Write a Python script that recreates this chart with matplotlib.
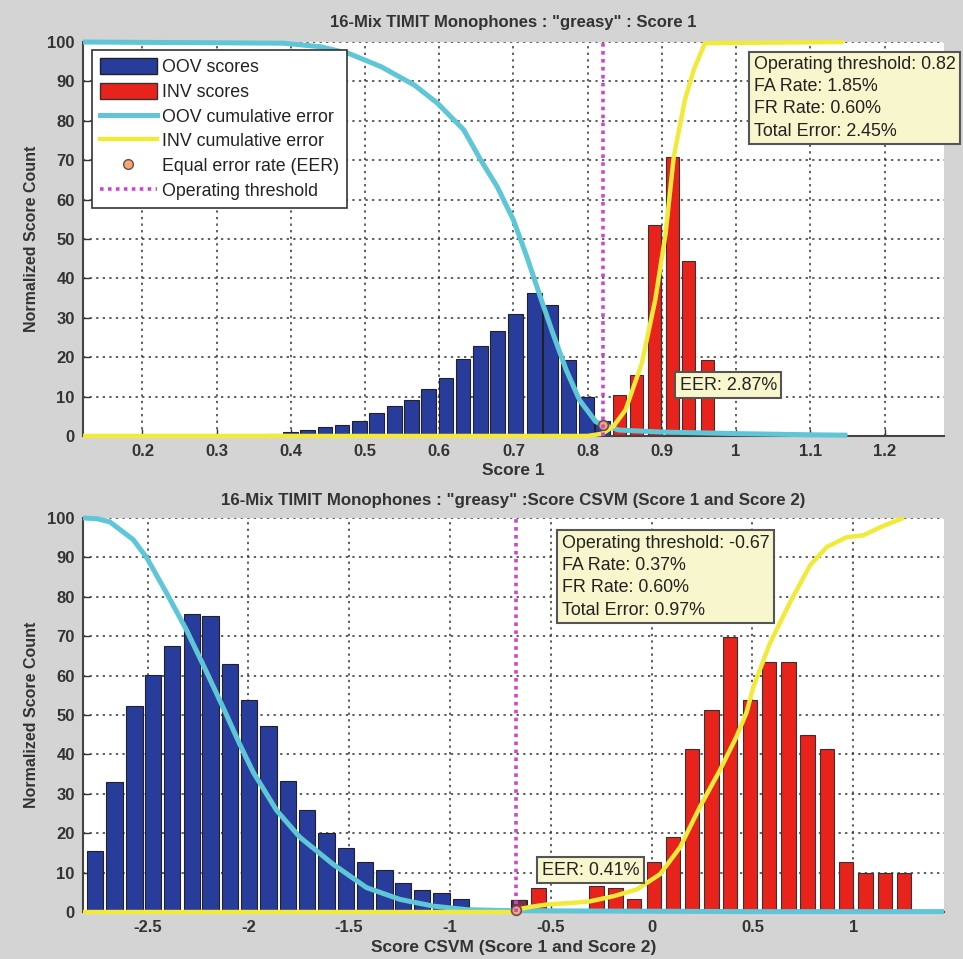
import numpy as np
import matplotlib
matplotlib.use("Agg")
import matplotlib.pyplot as plt
from matplotlib.patches import Patch
from matplotlib.lines import Line2D
from matplotlib.ticker import FuncFormatter, MultipleLocator

plt.rcParams['font.family'] = ['Liberation Sans', 'DejaVu Sans']

# ---- Score 1 ----
s1_oov_bins = [0.376, 0.400, 0.423, 0.446, 0.469, 0.492, 0.516, 0.540, 0.563, 0.586,
               0.609, 0.632, 0.656, 0.679, 0.703, 0.728, 0.750, 0.774, 0.798, 0.820]
s1_oov_counts = [0.5, 1.0, 1.5, 2.2, 2.8, 3.9, 5.8, 7.6, 9.2, 12.0,
                 14.6, 19.6, 22.8, 26.6, 30.9, 36.2, 33.2, 19.2, 9.9, 3.8]
s1_inv_bins = [0.843, 0.866, 0.890, 0.914, 0.936, 0.961]
s1_inv_counts = [10.4, 15.5, 53.6, 70.7, 44.5, 19.3]

s1_oov_err_x = [0.12, 0.39, 0.44, 0.478, 0.522, 0.567, 0.598, 0.633, 0.656, 0.678, 0.700,
                0.718, 0.736, 0.753, 0.771, 0.789, 0.811, 0.82, 0.842, 0.9, 1.0, 1.1, 1.15]
s1_oov_err_y = [100, 99.7, 98.8, 97.1, 93.7, 89.0, 84.4, 77.7, 70.0, 63.3, 54.8,
                45.5, 35.4, 26.1, 16.8, 9.1, 3.6, 2.9, 1.5, 1.0, 0.6, 0.3, 0.2]
s1_inv_err_x = [0.12, 0.80, 0.82, 0.835, 0.851, 0.873, 0.891, 0.905, 0.916, 0.931,
                0.943, 0.958, 1.145]
s1_inv_err_y = [0, 0, 0.6, 2.5, 6.6, 18.5, 34.5, 51.4, 70.9, 85.3, 93.0, 99.7, 100]

s1_threshold = 0.82
s1_eer = 2.87
s1_stats = ["Operating threshold: 0.82", "FA Rate: 1.85%", "FR Rate: 0.60%", "Total Error: 2.45%"]

# ---- Score CSVM ----
cs_oov_bins = [-2.760, -2.664, -2.565, -2.472, -2.378, -2.280, -2.188, -2.092, -1.996, -1.900,
               -1.804, -1.710, -1.612, -1.516, -1.421, -1.324, -1.232, -1.139, -1.042, -0.946,
               -0.658]
cs_oov_counts = [15.6, 33.1, 52.2, 60.1, 67.6, 75.7, 75.0, 63.0, 53.7, 47.2,
                 33.3, 26.0, 20.0, 16.2, 12.6, 10.7, 7.3, 5.7, 4.7, 3.2,
                 3.0]
cs_inv_bins = [-0.658, -0.562, -0.273, -0.180, -0.088, 0.011, 0.107, 0.201, 0.296, 0.390,
               0.488, 0.582, 0.678, 0.774, 0.870, 0.965, 1.060, 1.157, 1.251]
cs_inv_counts = [3.0, 6.2, 6.6, 6.2, 3.2, 12.6, 19.1, 41.4, 51.3, 69.7,
                 53.8, 63.4, 63.4, 44.8, 41.4, 12.6, 9.8, 9.8, 9.8]

cs_oov_err_x = [-2.82, -2.75, -2.687, -2.571, -2.505, -2.406, -2.307, -2.208, -2.108, -2.042,
                -1.976, -1.860, -1.745, -1.579, -1.414, -1.248, -1.083, -0.918, -0.75, -0.5,
                0.0, 0.5, 1.0, 1.45]
cs_oov_err_y = [100, 99.8, 99.0, 94.5, 90.0, 81.0, 71.6, 61.0, 50.0, 42.5,
                35.5, 25.8, 19.0, 12.1, 6.2, 3.2, 1.5, 0.6, 0.4, 0.3,
                0.2, 0.1, 0.1, 0.1]
cs_inv_err_x = [-2.82, -0.70, -0.67, -0.60, -0.521, -0.40, -0.306, -0.19, -0.074, 0.042,
                0.141, 0.24, 0.339, 0.422, 0.471, 0.504, 0.587, 0.686, 0.785, 0.868,
                0.967, 1.05, 1.15, 1.25]
cs_inv_err_y = [0, 0, 0.6, 1.3, 1.9, 2.3, 2.7, 4.0, 5.7, 9.6,
                16.4, 26.7, 36.0, 44.6, 50.6, 57.0, 68.2, 78.5, 87.9, 92.6,
                95.1, 95.6, 98.0, 100]

cs_threshold = -0.67
cs_eer = 0.41
cs_stats = ["Operating threshold: -0.67", "FA Rate: 0.37%", "FR Rate: 0.60%", "Total Error: 0.97%"]

BLUE = '#283c9c'
RED = '#e8231c'
MIX = '#862a4a'
CYAN = '#5ec6d6'
YELLOW = '#f2ea3a'
MAGENTA = '#cf45cf'
BOXFACE = '#f8f6cc'
BG = '#d4d4d4'
TXT = 12.9


def fmt(v, pos):
    return '%g' % round(v, 6)


def draw_panel(ax, oov_b, oov_c, inv_b, inv_c, step, oov_x, oov_y, inv_x, inv_y,
               thr, eer, stats, xlim, xstep, title, xlabel, box_xy, eer_xy,
               title_pad=9, title_size=12, legend=False):
    ax.set_facecolor('white')
    ax.bar(oov_b, oov_c, width=step * 0.85, color=BLUE, edgecolor='#222222', linewidth=0.8, zorder=2)
    ax.bar(inv_b, inv_c, width=step * 0.75, color=RED, edgecolor='#333333', linewidth=0.8, zorder=2)
    # bins shared by both classes
    for b, c in zip(inv_b, inv_c):
        if any(np.isclose(b, o) for o in oov_b):
            ax.bar([b], [c], width=step * 0.75, color=MIX, edgecolor='#333333', linewidth=0.8, zorder=2)
    ax.plot(oov_x, oov_y, color=CYAN, lw=3.6, solid_capstyle='butt', zorder=3, clip_on=False)
    ax.plot(inv_x, inv_y, color=YELLOW, lw=3.2, solid_capstyle='butt', zorder=3, clip_on=False)
    ax.plot([thr], [eer], 'o', ms=7, mfc='#f4a86a', mec='#6a4a5a', mew=1.2, zorder=4, clip_on=False)
    ax.plot([thr, thr], [0, 100], color=MAGENTA, lw=2.6, linestyle=(0, (1, 1.2)), zorder=5)

    ax.set_xlim(*xlim)
    ax.set_ylim(0, 100)
    ax.xaxis.set_major_locator(MultipleLocator(xstep))
    ax.yaxis.set_major_locator(MultipleLocator(10))
    ax.xaxis.set_major_formatter(FuncFormatter(fmt))
    ax.yaxis.set_major_formatter(FuncFormatter(fmt))
    ax.grid(True, color='#333333', linestyle=(0, (1.5, 2.8)), linewidth=1.1, zorder=1)
    ax.set_axisbelow(True)
    ax.tick_params(direction='in', length=5, width=1, labelsize=12, color='#333333', pad=6)
    for lab in ax.get_xticklabels() + ax.get_yticklabels():
        lab.set_fontweight('bold')
        lab.set_color('#333333')
    for side in ('top', 'right'):
        ax.spines[side].set_visible(False)
    for side in ('left', 'bottom'):
        ax.spines[side].set_color('#444444')
        ax.spines[side].set_linewidth(1.5)

    ax.set_title(title, fontsize=title_size, fontweight='bold', color='#333333', pad=title_pad)
    ax.set_xlabel(xlabel, fontsize=12.5, fontweight='bold', color='#333333', labelpad=3)
    ax.set_ylabel('Normalized Score Count', fontsize=11.5, fontweight='bold', color='#333333', labelpad=6)

    ax.text(box_xy[0], box_xy[1], '\n'.join(stats), transform=ax.transAxes, ha='left', va='top',
            fontsize=TXT, color='#222222', linespacing=1.4, zorder=6,
            bbox=dict(boxstyle='square,pad=0.25', facecolor=BOXFACE, edgecolor='#555555', linewidth=1.5))
    ax.text(eer_xy[0], eer_xy[1], 'EER: %.2f%%' % eer, transform=ax.transAxes, ha='left', va='top',
            fontsize=TXT, color='#222222', zorder=6,
            bbox=dict(boxstyle='square,pad=0.25', facecolor=BOXFACE, edgecolor='#555555', linewidth=1.5))

    if legend:
        handles = [
            Patch(facecolor=BLUE, edgecolor='#222222', label='OOV scores'),
            Patch(facecolor=RED, edgecolor='#333333', label='INV scores'),
            Line2D([], [], color=CYAN, lw=3.6, label='OOV cumulative error'),
            Line2D([], [], color=YELLOW, lw=3.2, label='INV cumulative error'),
            Line2D([], [], ls='none', marker='o', ms=7, mfc='#f4a86a', mec='#6a4a5a',
                   label='Equal error rate (EER)'),
            Line2D([], [], color=MAGENTA, lw=2.6, ls=(0, (1, 1.2)), label='Operating threshold'),
        ]
        leg = ax.legend(handles=handles, loc='upper left', bbox_to_anchor=(0.0105, 0.98),
                        borderaxespad=0, fontsize=12.8, handlelength=3.2, handleheight=1.0,
                        handletextpad=0.3, labelspacing=0.38, borderpad=0.45,
                        fancybox=False, framealpha=1, edgecolor='#333333')
        leg.get_frame().set_linewidth(1.2)
        leg.set_zorder(7)
        for t in leg.get_texts():
            t.set_color('#222222')


fig = plt.figure(figsize=(9.63, 9.59), dpi=100, facecolor=BG)
ax1 = fig.add_axes([0.0862, 0.5454, 0.894, 0.4108])
ax2 = fig.add_axes([0.0862, 0.0490, 0.894, 0.4109])

draw_panel(ax1, s1_oov_bins, s1_oov_counts, s1_inv_bins, s1_inv_counts, 0.0235,
           s1_oov_err_x, s1_oov_err_y, s1_inv_err_x, s1_inv_err_y,
           s1_threshold, s1_eer, s1_stats, (0.12, 1.28), 0.1,
           '16-Mix TIMIT Monophones : "greasy" : Score 1', 'Score 1',
           (0.779, 0.9645), (0.693, 0.150), title_pad=11, legend=True)
draw_panel(ax2, cs_oov_bins, cs_oov_counts, cs_inv_bins, cs_inv_counts, 0.0962,
           cs_oov_err_x, cs_oov_err_y, cs_inv_err_x, cs_inv_err_y,
           cs_threshold, cs_eer, cs_stats, (-2.82, 1.45), 0.5,
           '16-Mix TIMIT Monophones : "greasy" :Score CSVM (Score 1 and Score 2)',
           'Score CSVM (Score 1 and Score 2)',
           (0.556, 0.957), (0.533, 0.127), title_pad=9, title_size=12.2)

fig.savefig('out.png', dpi=100, facecolor=BG)
